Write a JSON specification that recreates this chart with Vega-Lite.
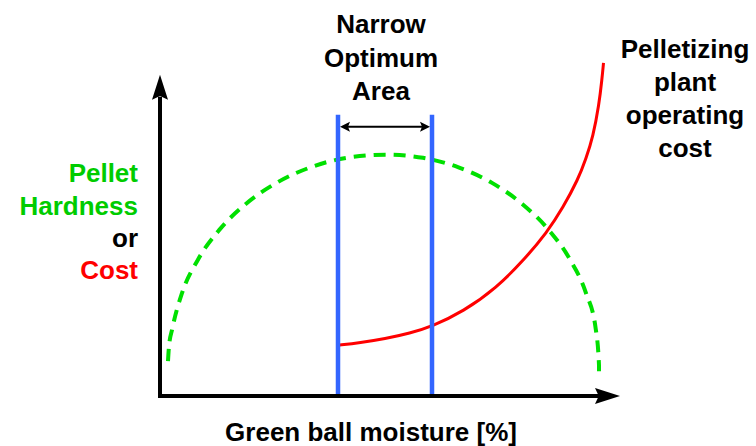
{
  "$schema": "https://vega.github.io/schema/vega-lite/v6.json",
  "width": 756,
  "height": 446,
  "padding": 0,
  "autosize": {"type": "fit", "contains": "padding"},
  "background": "white",
  "config": {"view": {"stroke": null}},
  "encoding": {
    "x": {"type": "quantitative", "scale": {"domain": [-160, 596], "nice": false, "zero": false}, "axis": null},
    "y": {"type": "quantitative", "scale": {"domain": [-49, 397], "nice": false, "zero": false}, "axis": null}
  },
  "layer": [
    {
      "data": {"values": [
        {"moisture": 8, "hardness": 35, "ord": 0},
        {"moisture": 9, "hardness": 50, "ord": 1},
        {"moisture": 12.3, "hardness": 67.6, "ord": 2},
        {"moisture": 22, "hardness": 103.2, "ord": 3},
        {"moisture": 37.8, "hardness": 136.5, "ord": 4},
        {"moisture": 59.3, "hardness": 166.6, "ord": 5},
        {"moisture": 85.8, "hardness": 192.6, "ord": 6},
        {"moisture": 116.5, "hardness": 213.7, "ord": 7},
        {"moisture": 150.5, "hardness": 229.3, "ord": 8},
        {"moisture": 186.7, "hardness": 238.8, "ord": 9},
        {"moisture": 226, "hardness": 242, "ord": 10},
        {"moisture": 263, "hardness": 238.8, "ord": 11},
        {"moisture": 298.5, "hardness": 229.3, "ord": 12},
        {"moisture": 332, "hardness": 213.7, "ord": 13},
        {"moisture": 362.2, "hardness": 192.6, "ord": 14},
        {"moisture": 388.7, "hardness": 166.6, "ord": 15},
        {"moisture": 410.2, "hardness": 136.5, "ord": 16},
        {"moisture": 426, "hardness": 103.2, "ord": 17},
        {"moisture": 435.7, "hardness": 67.6, "ord": 18},
        {"moisture": 439, "hardness": 31, "ord": 19},
        {"moisture": 439, "hardness": 25, "ord": 20}
      ]},
      "mark": {"type": "line", "color": "#00e000", "strokeWidth": 4, "strokeDash": [12, 8], "interpolate": "monotone"},
      "encoding": {
        "x": {"field": "moisture", "type": "quantitative"},
        "y": {"field": "hardness", "type": "quantitative"},
        "order": {"field": "ord"}
      }
    },
    {
      "data": {"values": [
        {"moisture": 178, "cost": 51},
        {"moisture": 200, "cost": 53.5},
        {"moisture": 225, "cost": 57.5},
        {"moisture": 250, "cost": 63},
        {"moisture": 272, "cost": 70},
        {"moisture": 303, "cost": 84.5},
        {"moisture": 337, "cost": 109},
        {"moisture": 363, "cost": 135.5},
        {"moisture": 387, "cost": 164},
        {"moisture": 403, "cost": 189},
        {"moisture": 418, "cost": 217},
        {"moisture": 426, "cost": 238},
        {"moisture": 433, "cost": 260},
        {"moisture": 439, "cost": 292},
        {"moisture": 442, "cost": 318},
        {"moisture": 443.5, "cost": 334}
      ]},
      "mark": {"type": "line", "color": "#ff0000", "strokeWidth": 3, "interpolate": "basis"},
      "encoding": {
        "x": {"field": "moisture", "type": "quantitative"},
        "y": {"field": "cost", "type": "quantitative"}
      }
    },
    {
      "data": {"values": [
        {"moisture": 178, "bottom": 0, "top": 282},
        {"moisture": 272, "bottom": 0, "top": 282}
      ]},
      "mark": {"type": "rule", "color": "#3366ff", "strokeWidth": 4.5},
      "encoding": {
        "x": {"field": "moisture", "type": "quantitative"},
        "y": {"field": "bottom", "type": "quantitative"},
        "y2": {"field": "top"}
      }
    },
    {
      "data": {"values": [
        {"x1": 0, "y1": -2, "x2": 0, "y2": 300},
        {"x1": -2, "y1": 0, "x2": 440, "y2": 0}
      ]},
      "mark": {"type": "rule", "color": "#000000", "strokeWidth": 4},
      "encoding": {
        "x": {"field": "x1", "type": "quantitative"},
        "y": {"field": "y1", "type": "quantitative"},
        "x2": {"field": "x2"},
        "y2": {"field": "y2"}
      }
    },
    {
      "data": {"values": [
        {"x1": 186, "y1": 270, "x2": 264, "y2": 270}
      ]},
      "mark": {"type": "rule", "color": "#000000", "strokeWidth": 2},
      "encoding": {
        "x": {"field": "x1", "type": "quantitative"},
        "y": {"field": "y1", "type": "quantitative"},
        "x2": {"field": "x2"},
        "y2": {"field": "y2"}
      }
    },
    {
      "data": {"values": [{"px": 0, "py": 309.5}]},
      "mark": {"type": "point", "shape": "M0,-1L0.64,1L0,0.7L-0.64,1Z", "size": 625, "filled": true, "color": "#000000", "opacity": 1, "strokeWidth": 0},
      "encoding": {
        "x": {"field": "px", "type": "quantitative"},
        "y": {"field": "py", "type": "quantitative"}
      }
    },
    {
      "data": {"values": [{"px": 447.5, "py": 0}]},
      "mark": {"type": "point", "shape": "M1,0L-1,0.64L-0.7,0L-1,-0.64Z", "size": 625, "filled": true, "color": "#000000", "opacity": 1, "strokeWidth": 0},
      "encoding": {
        "x": {"field": "px", "type": "quantitative"},
        "y": {"field": "py", "type": "quantitative"}
      }
    },
    {
      "data": {"values": [{"px": 185, "py": 270}]},
      "mark": {"type": "point", "shape": "M-1,0L1,-1L0.6,0L1,1Z", "size": 100, "filled": true, "color": "#000000", "opacity": 1, "strokeWidth": 0},
      "encoding": {
        "x": {"field": "px", "type": "quantitative"},
        "y": {"field": "py", "type": "quantitative"}
      }
    },
    {
      "data": {"values": [{"px": 265, "py": 270}]},
      "mark": {"type": "point", "shape": "M1,0L-1,-1L-0.6,0L-1,1Z", "size": 100, "filled": true, "color": "#000000", "opacity": 1, "strokeWidth": 0},
      "encoding": {
        "x": {"field": "px", "type": "quantitative"},
        "y": {"field": "py", "type": "quantitative"}
      }
    },
    {
      "data": {"values": [
        {"label": "Narrow", "tx": 221, "ty": 364},
        {"label": "Optimum", "tx": 221, "ty": 330},
        {"label": "Area", "tx": 221, "ty": 297},
        {"label": "Pelletizing", "tx": 525, "ty": 339},
        {"label": "plant", "tx": 525, "ty": 306},
        {"label": "operating", "tx": 525, "ty": 273},
        {"label": "cost", "tx": 525, "ty": 240},
        {"label": "Green ball moisture [%]", "tx": 211, "ty": -45}
      ]},
      "mark": {"type": "text", "font": "Liberation Sans", "fontWeight": "bold", "fontSize": 26, "align": "center", "baseline": "alphabetic", "color": "#000000"},
      "encoding": {
        "x": {"field": "tx", "type": "quantitative"},
        "y": {"field": "ty", "type": "quantitative"},
        "text": {"field": "label"}
      }
    },
    {
      "data": {"values": [
        {"label": "Pellet", "tx": -22, "ty": 215, "grp": "hardness"},
        {"label": "Hardness", "tx": -22, "ty": 182, "grp": "hardness"},
        {"label": "or", "tx": -22, "ty": 149, "grp": "neutral"},
        {"label": "Cost", "tx": -22, "ty": 117, "grp": "cost"}
      ]},
      "mark": {"type": "text", "font": "Liberation Sans", "fontWeight": "bold", "fontSize": 26, "align": "right", "baseline": "alphabetic"},
      "encoding": {
        "x": {"field": "tx", "type": "quantitative"},
        "y": {"field": "ty", "type": "quantitative"},
        "text": {"field": "label"},
        "color": {"field": "grp", "type": "nominal", "scale": {"domain": ["hardness", "neutral", "cost"], "range": ["#00cc00", "#000000", "#ff0000"]}, "legend": null}
      }
    }
  ]
}
